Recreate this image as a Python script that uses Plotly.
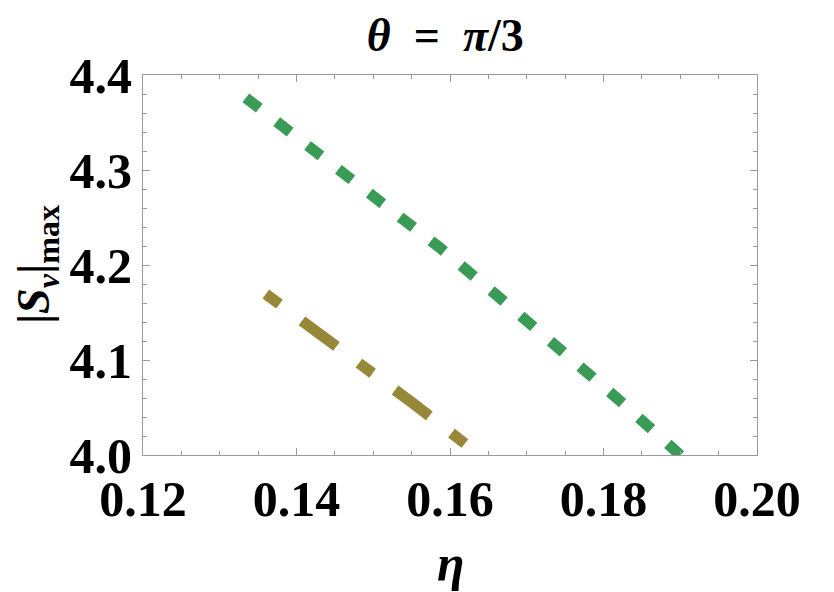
import plotly.graph_objects as go

# Data
eta_green = [0.1334, 0.1425, 0.1508, 0.1587, 0.1667, 0.1746, 0.1823, 0.1897, 0.1907]
s_green = [4.376, 4.319, 4.2695, 4.218, 4.164, 4.1105, 4.056, 4.002, 3.995]

eta_olive = [0.1360, 0.1431, 0.1493, 0.1553, 0.1622]
s_olive = [4.1695, 4.1274, 4.0916, 4.0537, 4.0105]

x_ticks = [0.12, 0.14, 0.16, 0.18, 0.20]
x_labels = ["0.12", "0.14", "0.16", "0.18", "0.20"]
y_ticks = [4.0, 4.1, 4.2, 4.3, 4.4]
y_labels = ["4.0", "4.1", "4.2", "4.3", "4.4"]

GREEN = "#3a9b57"
OLIVE = "#978739"
FONT = "Liberation Serif"

fig = go.Figure()
fig.add_trace(go.Scatter(x=eta_green, y=s_green, mode="lines",
                         line=dict(color=GREEN, width=11, dash="17px,22px"),
                         showlegend=False))
fig.add_trace(go.Scatter(x=eta_olive, y=s_olive, mode="lines",
                         line=dict(color=OLIVE, width=11, dash="17px,28px,43px,28px"),
                         showlegend=False))

axis_common = dict(showgrid=False, zeroline=False, showline=True, linecolor="#9a9a9a",
                   linewidth=1, mirror="allticks", ticks="inside", ticklen=7,
                   tickcolor="#9a9a9a", tickwidth=1,
                   tickfont=dict(family=FONT, size=50, color="black", weight="bold"))

fig.update_xaxes(range=[0.12, 0.20], tickvals=x_ticks, ticktext=x_labels,
                 minor=dict(ticks="inside", dtick=0.005, tick0=0.12, ticklen=4,
                            tickcolor="#9a9a9a", showgrid=False),
                 **axis_common)
fig.update_yaxes(range=[4.0, 4.4], tickvals=y_ticks, ticktext=y_labels,
                 minor=dict(ticks="inside", dtick=0.02, tick0=4.0, ticklen=4,
                            tickcolor="#9a9a9a", showgrid=False),
                 **axis_common)

fig.update_layout(
    width=834, height=592,
    margin=dict(l=143, r=77, t=75, b=137),
    paper_bgcolor="white", plot_bgcolor="white",
    title=dict(text="<i>θ</i>  =  <i>π</i>/3", x=0.534, xanchor="center",
               y=1 - 35 / 592, yanchor="middle",
               font=dict(family=FONT, size=46, color="black", weight="bold")),
    annotations=[
        dict(text="<i>η</i>", xref="paper", yref="paper", x=0.5, y=-0.285,
             xanchor="center", yanchor="middle", showarrow=False,
             font=dict(family=FONT, size=50, color="black", weight="bold")),
        dict(text="|<i>S</i><sub><i>v</i></sub>|<sub>max</sub>", xref="paper", yref="paper",
             x=-0.1726, y=0.5, xanchor="center", yanchor="middle", textangle=-90,
             showarrow=False,
             font=dict(family=FONT, size=46, color="black", weight="bold")),
    ],
)

fig.write_html("out.html")
